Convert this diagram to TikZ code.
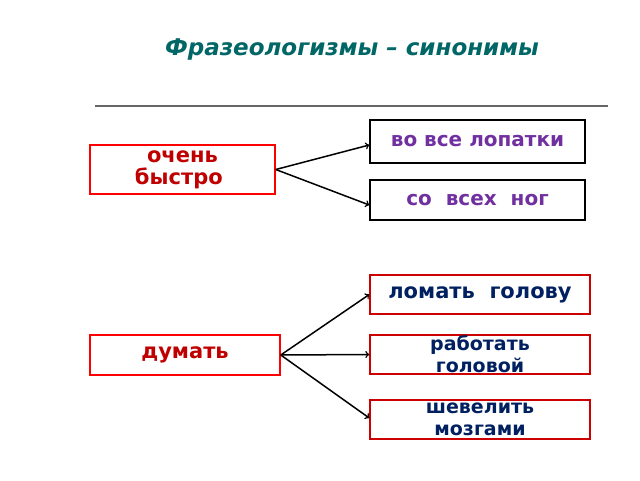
\documentclass[tikz,border=0pt]{standalone}
\usepackage{fontspec}
\setmainfont{DejaVu Sans}
\begin{document}
\begin{tikzpicture}[x=1pt,y=-1pt,
  bx/.style={draw,line width=1.5pt,minimum height=#1,inner sep=1pt,font=\bfseries\fontsize{20}{21}\selectfont,align=center},
  bx/.default=40pt,
  arr/.style={->,line width=1.5pt,>=to}]
\useasboundingbox (0,0) rectangle (640,480);
\definecolor{teal1}{RGB}{0,102,102}
\definecolor{dred}{RGB}{192,0,0}
\definecolor{purp}{RGB}{112,48,160}
\definecolor{navy}{RGB}{0,32,96}
\node[font=\bfseries\itshape\fontsize{23}{25}\selectfont,text=teal1] (title) at (352,50) {Фразеологизмы – синонимы};
\coordinate (l1) at (95,106); \coordinate (l2) at (608,106);
\draw[gray!80!black,line width=1.2pt] (l1) -- (l2);
\node[bx=49pt,draw=red,text=dred,minimum width=185pt,font=\bfseries\fontsize{21}{22}\selectfont] (a) at (182.5,169.5) {очень\\быстро\ \ };
\node[bx=43pt,draw=black,text=purp,minimum width=215pt] (a1) at (477.5,141.5) {\raisebox{-3pt}{во все лопатки}};
\node[bx=40pt,draw=black,text=purp,minimum width=215pt] (a2) at (477.5,200) {\raisebox{-3pt}{со\ \ всех\ \ ног}};
\node[bx=40pt,draw=red,text=dred,minimum width=190pt,font=\bfseries\fontsize{21}{22}\selectfont] (b) at (185,355) {\raisebox{-4pt}{думать}};
\node[bx=39pt,draw=red!80!black,text=navy,minimum width=220pt,font=\bfseries\fontsize{21}{22}\selectfont] (b1) at (480,294.5) {\raisebox{-3pt}{ломать\ \ голову}};
\node[bx=39pt,draw=red!80!black,text=navy,minimum width=220pt,font=\bfseries\fontsize{19}{22}\selectfont] (b2) at (480,354.5) {работать\\ головой};
\node[bx=39pt,draw=red!80!black,text=navy,minimum width=220pt,font=\bfseries\fontsize{19}{22}\selectfont] (b3) at (480,419.5) {шевелить\\ мозгами};
\draw[arr] (a.east) -- ([yshift=-3.5pt]a1.west);
\draw[arr] (a.east) -- ([yshift=-5pt]a2.west);
\draw[arr] (b.east) -- (b1.west);
\draw[arr] (b.east) -- (b2.west);
\draw[arr] (b.east) -- ([yshift=1.5pt]b3.west);
\end{tikzpicture}
\end{document}
